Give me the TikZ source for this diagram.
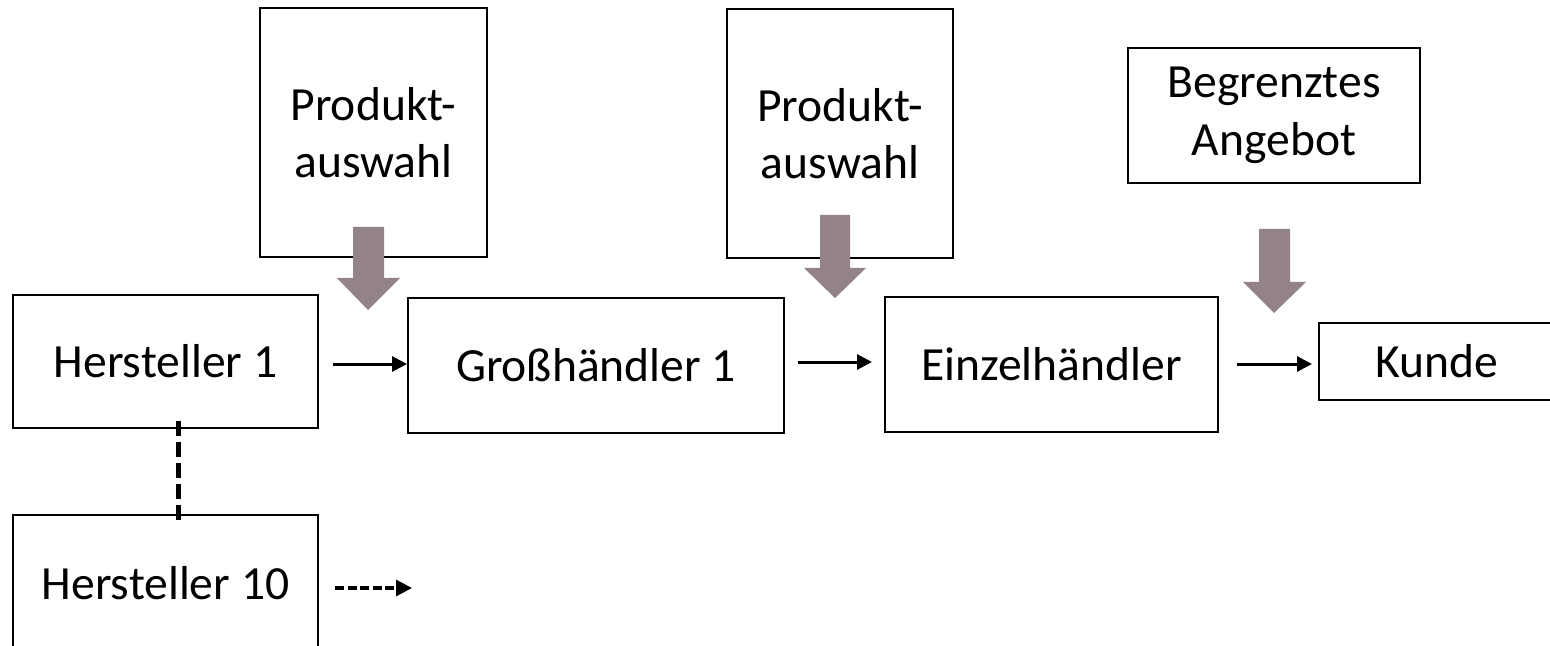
\documentclass[tikz,border=0pt]{standalone}
\usepackage{fontspec}
\setmainfont{Carlito}
\usetikzlibrary{arrows.meta,calc}
\definecolor{taupe}{RGB}{147,131,134}
\tikzset{
  box/.style={draw=black, line width=1pt, fill=white, inner sep=0pt, align=center,
    font=\fontsize{23.8pt}{28.8pt}\selectfont},
  boxsize/.style 2 args={minimum width=#1*0.5pt, minimum height=#2*0.5pt},
  flow/.style={line width=1.5pt, -{Triangle[length=7.5pt,width=7.5pt]}},
  dflow/.style={line width=1.6pt, dash pattern=on 4.5pt off 1.8pt, -{Triangle[length=8pt,width=8pt]}},
  vdash/.style={line width=2.5pt, dash pattern=on 7.5pt off 3pt},
  blockarrow/.style={fill=taupe, draw=none}
}
\begin{document}
\begin{tikzpicture}[x=0.5pt,y=-0.5pt]
\path[use as bounding box, clip] (0,0) rectangle (1550,646);

% upper boxes
\node[box, boxsize={227}{249}] (P1) at (373.5,132.5) {Produkt-\\auswahl};
\node[box, boxsize={226}{249}] (P2) at (840,133.5) {Produkt-\\auswahl};
\node[box, boxsize={292}{135}] (B) at (1274,115.5) {Begrenztes\\Angebot};

% grey block arrows
\fill[blockarrow] (353,227) -- (384,227) -- (384,278) -- (400,278) -- (368,310) -- (337,278) -- (353,278) -- cycle;
\fill[blockarrow] (820,215) -- (850,215) -- (850,268) -- (866,268) -- (835,298) -- (804,268) -- (820,268) -- cycle;
\fill[blockarrow] (1259,229) -- (1290,229) -- (1290,282) -- (1306,282) -- (1274,313) -- (1243,282) -- (1259,282) -- cycle;

% chain
\node[box, boxsize={305}{133}] (H1) at (165.5,361.5) {Hersteller 1};
\node[box, boxsize={376}{135}] (G) at (596,365.5) {Großhändler 1};
\node[box, boxsize={333}{135}] (E) at (1051.5,364.5) {Einzelhändler};
\node[box, boxsize={236}{77}] (K) at (1437,361.5) {Kunde};
\node[box, boxsize={305}{137}] (H10) at (165.5,583.5) {Hersteller 10};

% connectors
\draw[flow] ([shift={(14,2.5)}]H1.east) -- ([shift={(0,-1.5)}]G.west);
\draw[flow] ([shift={(13,-3.5)}]G.east) -- ([shift={(-12,-2.5)}]E.west);
\draw[flow] ([shift={(18,-0.5)}]E.east) -- ([shift={(-6,2.5)}]K.west);
\draw[vdash] ([shift={(12.5,-8)}]H1.south) -- ([shift={(12.5,7)}]H10.north);
\coordinate (free) at (412,588);
\draw[dflow] ([shift={(16,4.5)}]H10.east) -- (free);
\end{tikzpicture}
\end{document}
